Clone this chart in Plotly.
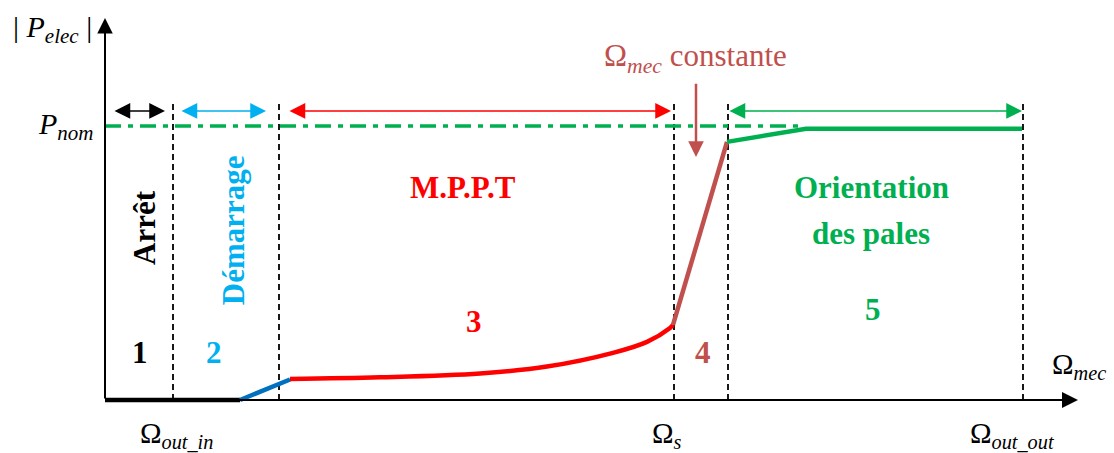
import plotly.graph_objects as go

# Operating zones of the wind turbine (omega in arbitrary units, power in p.u. of P_nom)
zone_bounds = [0.68, 1.74, 5.69, 6.23, 9.18]
zone_numbers = ["1", "2", "3", "4", "5"]
zone_colors = ["#000000", "#00B0F0", "#FF0000", "#C0504D", "#00B050"]
omega_ticks = ["Ω<sub><i>out_in</i></sub>", "Ω<sub><i>s</i></sub>", "Ω<sub><i>out_out</i></sub>"]

# Power curve, segment by segment
arret_w = [0.0, 1.35]
arret_p = [0.0, 0.0]
demarrage_w = [1.35, 1.85]
demarrage_p = [0.0, 0.075]
mppt_w = [1.85, 2.75, 3.75, 4.42, 5.08, 5.42, 5.65, 5.68]
mppt_p = [0.077, 0.083, 0.097, 0.122, 0.172, 0.212, 0.263, 0.274]
const_w = [5.68, 6.22]
const_p = [0.274, 0.942]
pales_w = [6.22, 7.01, 9.17]
pales_p = [0.942, 0.99, 0.99]
p_nom = 1.0

FONT = "Liberation Serif"
fig = go.Figure()


def line(x, y, color, width, dash="solid", shape="linear"):
    fig.add_trace(go.Scatter(x=x, y=y, mode="lines", hoverinfo="skip", showlegend=False,
                             line=dict(color=color, width=width, dash=dash, shape=shape)))


# vertical dashed zone boundaries
for b in zone_bounds:
    line([b, b], [0, 1.088], "#000000", 1.8, dash="6px,4px")

# P_nom dash-dot line
line([0, 7.0], [p_nom, p_nom], "#00B050", 3.5, dash="16px,7px,5px,7px")

# power curve
line(arret_w, arret_p, "#000000", 4.5)
line(demarrage_w, demarrage_p, "#0070C0", 4.5)
line(mppt_w, mppt_p, "#FF0000", 4.5, shape="spline")
line(const_w, const_p, "#C0504D", 4.5)
line(pales_w, pales_p, "#00B050", 4.5)

ann = []


def arrow(x0, y0, x1, y1, color, width, size, both=False):
    ann.append(dict(x=x1, y=y1, ax=x0, ay=y0, xref="x", yref="y", axref="x", ayref="y",
                    text="", showarrow=True, arrowhead=2, arrowsize=size, arrowwidth=width,
                    arrowcolor=color, arrowside="end+start" if both else "end", standoff=0,
                    startstandoff=0))


def text(x, y, s, size, color="#000000", bold=False, angle=0, xanchor="center"):
    if bold:
        s = "<b>" + s + "</b>"
    ann.append(dict(x=x, y=y, xref="x", yref="y", text=s, showarrow=False, textangle=angle,
                    xanchor=xanchor, yanchor="middle",
                    font=dict(family=FONT, size=size, color=color)))


# axes
arrow(0, 0, 0, 1.394, "#000000", 2, 1.55)
arrow(0, 0, 9.73, 0, "#000000", 2, 1.6)

# zone span arrows
arr_y = 1.055
edges = [0.0] + zone_bounds
spans = [(0.08, -0.08), (0.07, -0.13), (0.09, -0.03), (0.0, -0.01)]
span_idx = [0, 1, 2, 4]
for (d0, d1), i in zip(spans, span_idx):
    arrow(edges[i] + d0, arr_y, edges[i + 1] + d1, arr_y, zone_colors[i], 1.5, 2.1, both=True)

# "Omega_mec constante" arrow
arrow(5.91, 1.16, 5.91, 0.887, "#C0504D", 2.5, 1.25)

# axis labels
text(-0.53, 1.355, "| <i>P</i><sub><i>elec</i></sub> |", 30)
text(-0.09, 1.0, "<i>P</i><sub><i>nom</i></sub>", 30, xanchor="right")
text(9.74, 0.125, "Ω<sub><i>mec</i></sub>", 29)
tick_y = -0.128
text(zone_bounds[0] + 0.03, tick_y, omega_ticks[0], 29)
text(zone_bounds[2] - 0.07, tick_y, omega_ticks[1], 29)
text(zone_bounds[4] - 0.11, tick_y, omega_ticks[2], 29)
text(5.90, 1.25, "Ω<sub><i>mec</i></sub> constante", 31, color="#C0504D")

# zone names
text(0.40, 0.628, "Arrêt", 31, bold=True, angle=-90)
text(1.28, 0.62, "Démarrage", 31, "#00B0F0", bold=True, angle=-90)
text(3.58, 0.775, "M.P.P.T", 31, "#FF0000", bold=True)
text(7.66, 0.775, "Orientation", 31, "#00B050", bold=True)
text(7.66, 0.607, "des pales", 31, "#00B050", bold=True)

# zone numbers
num_pos = [(0.35, 0.172), (1.09, 0.172), (3.69, 0.285), (5.98, 0.175), (7.68, 0.332)]
for (x, y), n, c in zip(num_pos, zone_numbers, zone_colors):
    text(x, y, n, 31, c, bold=True)

fig.update_layout(
    width=1114, height=453,
    margin=dict(l=0, r=0, t=0, b=0),
    paper_bgcolor="white", plot_bgcolor="white",
    xaxis=dict(range=[-1.05, 10.09], visible=False, fixedrange=True),
    yaxis=dict(range=[-0.1934, 1.4599], visible=False, fixedrange=True),
    annotations=ann,
    showlegend=False,
)

# page body has a default 8px margin; remove it so the figure fills the window
fig.write_html("out.html", config={"displayModeBar": False},
               post_script="document.body.style.margin='0';")
